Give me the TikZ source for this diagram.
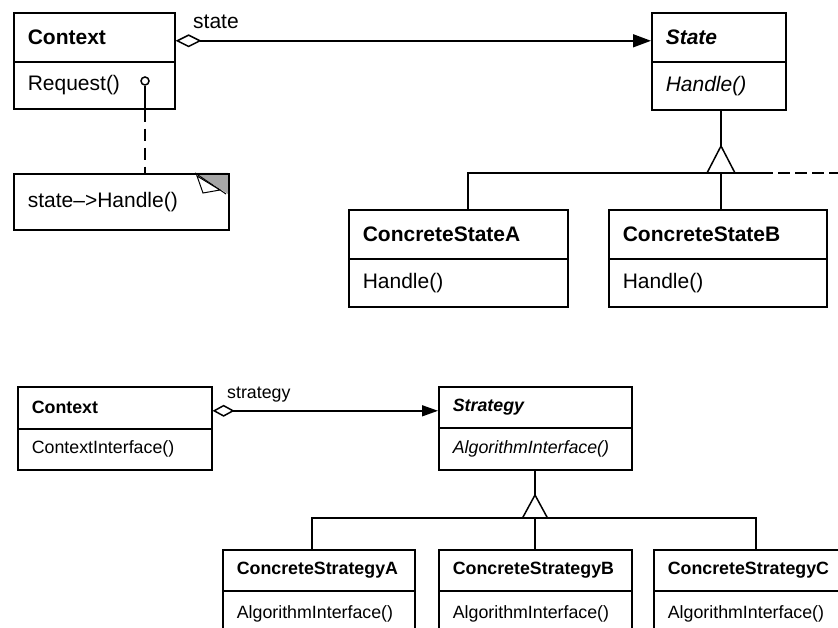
\documentclass[tikz,border=0pt]{standalone}
\usepackage{fontspec}
\setmainfont{Liberation Sans}
\usetikzlibrary{arrows.meta}
\begin{document}
\begin{tikzpicture}[x=1pt,y=-1pt,
  big/.style={font=\fontsize{21}{25}\selectfont},
  small/.style={font=\fontsize{17.8}{21}\selectfont},
  cls/.style={draw, line width=1.6pt, inner xsep=14pt, inner ysep=0pt, anchor=north west, align=left},
  conn/.style={line width=1.5pt},
  lbl/.style={anchor=west, inner sep=0pt}
]
\useasboundingbox (0,0) rectangle (838,628);
\clip (0,0) rectangle (838,628);

% ---------- State pattern ----------
\fill[black!35] (195,173) -- (228,173) -- (228,194) -- cycle;
\node[cls,big,text width=133pt,minimum height=49pt] (ctxH) at (13,12) {\textbf{Context}};
\node[cls,big,text width=133pt,minimum height=47pt] (ctxB) at (13,61) {Request()};
\node[cls,big,text width=106pt,minimum height=49pt] (stH) at (651,12) {\textbf{\textit{State}}};
\node[cls,big,text width=106pt,minimum height=48pt] (stB) at (651,61) {\textit{Handle()}};
\node[cls,big,text width=191pt,minimum height=49pt] (csAH) at (348,209) {\textbf{ConcreteStateA}};
\node[cls,big,text width=191pt,minimum height=48pt] (csAB) at (348,258) {Handle()};
\node[cls,big,text width=190pt,minimum height=49pt] (csBH) at (608,209) {\textbf{ConcreteStateB}};
\node[cls,big,text width=190pt,minimum height=48pt] (csBB) at (608,258) {Handle()};
\node[cls,big,text width=187pt,minimum height=56pt] (note) at (13,173) {state–>Handle()};
\draw[line width=1pt] (195,173) -- (226,194);
\draw[line width=1pt, fill=white] (197,176) -- (203,193) -- (220,190) -- cycle;

\node[draw, circle, conn, inner sep=0pt, minimum size=8pt, fill=white] (pin) at (145,81) {};
\draw[conn] (pin.south) -- (pin.south |- ctxB.south);
\draw[conn, dash pattern=on 12pt off 7pt] (pin.south |- ctxB.south) -- (pin.south |- note.north);

\draw[conn, {Diamond[open,length=26pt,width=13pt]}-{Triangle[length=18pt,width=13pt]}]
  ([yshift=-3.5pt]ctxH.east) -- ([yshift=-3.5pt]ctxH.east -| stH.west);
\node[big,lbl] (lblState) at (193,22) {state};

\coordinate (apT) at (721,146);
\coordinate (barT) at (721,173);
\draw[conn] (apT |- stB.south) -- (apT);
\draw[conn, fill=white] (707,173) -- (apT) -- (735,173);
\draw[conn] (csAH.north -| 468,0) |- (773,173);
\draw[conn] (barT |- csBH.north) -- (barT);
\coordinate (dashEnd) at (840,173);
\draw[conn, dash pattern=on 12pt off 5pt] (778,173) -- (dashEnd);

% ---------- Strategy pattern ----------
\node[cls,small,text width=166pt,minimum height=42pt] (sctxH) at (17,386) {\textbf{Context}};
\node[cls,small,text width=166pt,minimum height=41pt] (sctxB) at (17,428) {ContextInterface()};
\node[cls,small,text width=165pt,minimum height=41pt] (sgH) at (438,386) {\textbf{\textit{Strategy}}};
\node[cls,small,text width=165pt,minimum height=42pt] (sgB) at (438,427) {\textit{AlgorithmInterface()}};
\node[cls,small,text width=164pt,minimum height=41pt] (sAH) at (222,549) {\textbf{ConcreteStrategyA}};
\node[cls,small,text width=164pt,minimum height=46pt] (sAB) at (222,590) {AlgorithmInterface()};
\node[cls,small,text width=165pt,minimum height=41pt] (sBH) at (438,549) {\textbf{ConcreteStrategyB}};
\node[cls,small,text width=165pt,minimum height=46pt] (sBB) at (438,590) {AlgorithmInterface()};
\node[cls,small,text width=165pt,minimum height=41pt] (sCH) at (653,549) {\textbf{ConcreteStrategyC}};
\node[cls,small,text width=165pt,minimum height=46pt] (sCB) at (653,590) {AlgorithmInterface()};

\draw[conn, {Diamond[open,length=22pt,width=12pt]}-{Triangle[length=16pt,width=11pt]}]
  ([yshift=-3pt]sctxH.east) -- ([yshift=-3pt]sctxH.east -| sgH.west);
\node[small,lbl] (lblStrategy) at (227,395) {strategy};

\coordinate (apB) at (535,495);
\coordinate (barB) at (535,518);
\draw[conn] (apB |- sgB.south) -- (apB);
\draw[conn, fill=white] (522.5,518) -- (apB) -- (547.5,518);
\draw[conn] (sAH.north -| 312,0) |- (barB) -| (sCH.north -| 756,0);
\draw[conn] (barB |- sBH.north) -- (barB);
\end{tikzpicture}
\end{document}
